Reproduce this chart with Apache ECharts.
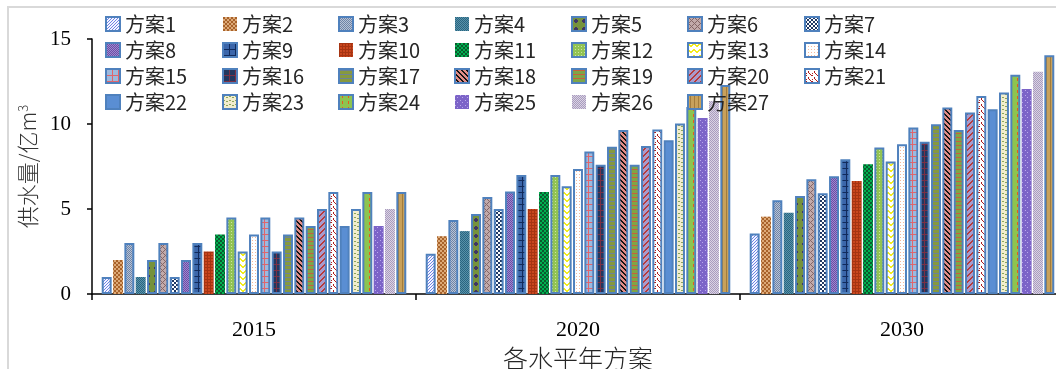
<!DOCTYPE html>
<html>
<head>
<meta charset="utf-8">
<script src="https://cdn.jsdelivr.net/npm/echarts@6/dist/echarts.min.js"></script>
<style>
html,body{margin:0;padding:0;background:#fff;}
#c{width:1056px;height:369px;}
</style>
</head>
<body>
<div id="c"></div>
<script>
// ---- data ----
const categories = ['2015', '2020', '2030'];
const seriesNames = ['方案1','方案2','方案3','方案4','方案5','方案6','方案7','方案8','方案9',
  '方案10','方案11','方案12','方案13','方案14','方案15','方案16','方案17','方案18',
  '方案19','方案20','方案21','方案22','方案23','方案24','方案25','方案26','方案27'];
const v2015 = [1, 2, 3, 1, 2, 3, 1, 2, 3, 2.5, 3.5, 4.5, 2.5, 3.5, 4.5, 2.5, 3.5, 4.5, 4, 5, 6, 4, 5, 6, 4, 5, 6];
const v2020 = [2.37, 3.4, 4.35, 3.7, 4.7, 5.7, 5.0, 6.03, 7.0, 5.0, 6.0, 7.0, 6.34, 7.36, 8.38, 7.6, 8.66, 9.64, 7.6, 8.7, 9.68, 9.05, 10.03, 11.0, 10.35, 11.35, 12.3];
const v2030 = [3.56, 4.55, 5.52, 4.78, 5.77, 6.75, 5.93, 6.93, 7.93, 6.65, 7.63, 8.62, 7.79, 8.81, 9.79, 8.95, 9.99, 10.97, 9.64, 10.68, 11.65, 10.87, 11.85, 12.89, 12.06, 13.08, 14.05];
const yTicks = { min: 0, max: 15, interval: 5 };

// ---- styles (fill patterns) ----
const fills = [
  {t:'diagUp', fg:'#6F82E6', bg:'#F4F6FF', sx:3, sy:3, w:1},
  {t:'checker', fg:'#A8622A', bg:'#DDAA78', sx:4, sy:4},
  {t:'checker', fg:'#6F84A6', bg:'#B8C3D6', sx:2, sy:2},
  {t:'checker', fg:'#2A6580', bg:'#5892AA', sx:2, sy:2},
  {t:'diamond', fg:'#3F3565', bg:'#76923C', sx:8, sy:8},
  {t:'trellis', fg:'#846666', bg:'#C2AAAA', sx:6, sy:6, w:1},
  {t:'checker', fg:'#1F3864', bg:'#FFFFFF', sx:4, sy:4},
  {t:'checker', fg:'#6A4EA6', bg:'#9F88CE', sx:2, sy:2},
  {t:'grid', fg:'#112B5C', bg:'#3B66AA', sx:6, sy:6, w:1},
  {t:'grid', fg:'#A63412', bg:'#C9461E', sx:3, sy:3, w:1},
  {t:'checker', fg:'#0B5A2E', bg:'#00B050', sx:4, sy:4},
  {t:'dots', fg:'#CDE6A0', bg:'#92C353', sx:3, sy:3},
  {t:'zigzag', fg:'#F2EC1C', bg:'#FFFFFF', sx:6, sy:6},
  {t:'dots', fg:'#F5B89A', bg:'#FFFFFF', sx:3, sy:3},
  {t:'grid', fg:'#E0656C', bg:'#9DB9DE', sx:6, sy:6, w:1},
  {t:'grid', fg:'#7A3046', bg:'#22375F', sx:6, sy:6, w:1},
  {t:'hlines', fg:'#6E8296', bg:'#86993F', sx:4, sy:4, w:1},
  {t:'diagDown', fg:'#141414', bg:'#E38C86', sx:5, sy:5, w:2},
  {t:'hlines', fg:'#C8603E', bg:'#7FA546', sx:4, sy:4, w:1},
  {t:'diagUp', fg:'#B83A3A', bg:'#A99BCC', sx:6, sy:6, w:2},
  {t:'confetti', fg:'#B01E1E', bg:'#FFFFFF', sx:6, sy:6},
  {t:'solid', fg:'#5A8ED3', bg:'#5A8ED3', sx:2, sy:2},
  {t:'wave', fg:'#8CA55A', bg:'#F2EDCD', sx:6, sy:4},
  {t:'vdash', fg:'#E85A1E', bg:'#8DC450', sx:6, sy:6},
  {t:'dots', fg:'#B9A8EC', bg:'#7C64C8', sx:5, sy:5},
  {t:'checker', fg:'#A99CBF', bg:'#DAD3E3', sx:2, sy:2},
  {t:'vlines', fg:'#A27C3C', bg:'#C8A15B', sx:4, sy:4, w:1}
];
const noBorder = [1, 3, 9, 10, 24, 25]; // 0-based indices of series without the blue outline

function makePattern(f) {
  const c = document.createElement('canvas');
  c.width = f.sx; c.height = f.sy;
  const g = c.getContext('2d');
  g.fillStyle = f.bg; g.fillRect(0, 0, f.sx, f.sy);
  g.fillStyle = f.fg;
  const w = f.w || 1;
  for (let x = 0; x < f.sx; x++) {
    for (let y = 0; y < f.sy; y++) {
      let on = false;
      const hx = f.sx / 2, hy = f.sy / 2;
      switch (f.t) {
        case 'diagUp': on = ((x + y) % f.sx) < w; break;
        case 'diagDown': on = ((x - y + f.sx * 10) % f.sx) < w; break;
        case 'trellis': on = ((x + y) % f.sx) < w || ((x - y + f.sx * 10) % f.sx) < w; break;
        case 'checker': on = ((Math.floor(x / hx) + Math.floor(y / hy)) % 2) === 0; break;
        case 'grid': on = (x % f.sx) < w || (y % f.sy) < w; break;
        case 'hlines': on = (y % f.sy) < w * 2 && (y % f.sy) >= w; break;
        case 'vlines': on = x === Math.floor(hx); break;
        case 'dots': on = (x === 0 && y === 0) || (f.sx > 3 && x === Math.floor(hx) && y === Math.floor(hy)); break;
        case 'diamond': on = Math.abs(x - hx + 0.5) + Math.abs(y - hy + 0.5) <= f.sx / 4; break;
        case 'confetti': on = (x === 0 && y === 0) || (x === 1 && y === 0) || (x === 3 && y === 2) || (x === 3 && y === 3) || (x === 1 && y === 4) || (x === 5 && y === 5) || (x === 4 && y === 4); break;
        case 'zigzag': on = y === (x < hx ? x : f.sx - 1 - x) || y === (x < hx ? x : f.sx - 1 - x) + 1; break;
        case 'wave': on = y === (x < hx ? 1 : 2) && (x % 3 !== 2); break;
        case 'vdash': on = x === Math.floor(hx) && y < hy; break;
        default: on = false;
      }
      if (on) g.fillRect(x, y, 1, 1);
    }
  }
  return { image: c, repeat: 'repeat' };
}

const series = seriesNames.map((name, i) => ({
  name: name,
  type: 'bar',
  data: [v2015[i], v2020[i], v2030[i]],
  barGap: '14%',
  barCategoryGap: '6%',
  itemStyle: {
    color: makePattern(fills[i]),
    borderColor: '#4F81BD',
    borderWidth: noBorder.indexOf(i) >= 0 ? 0 : 2
  },
  emphasis: { disabled: true }
}));

const legendLeft = [100, 217, 333, 449, 566, 682, 799];
const legends = legendLeft.map((lx, c) => {
  const d = [];
  for (let r = 0; r < 4; r++) { const k = c + r * 7; if (k < seriesNames.length) d.push(seriesNames[k]); }
  return {
    orient: 'vertical', left: lx, top: 9, itemGap: 6,
    itemWidth: 14, itemHeight: 14, icon: 'rect', selectedMode: false,
    textStyle: { fontFamily: 'Noto Sans CJK SC', fontSize: 20, lineHeight: 19, color: '#262626' },
    data: d
  };
});

const chart = echarts.init(document.getElementById('c'), null, { renderer: 'canvas' });
chart.setOption({
  animation: false,
  backgroundColor: '#fff',
  graphic: [{
    type: 'rect', silent: true, z: -10,
    shape: { x: 8, y: 7, width: 1200, height: 500 },
    style: { fill: 'none', stroke: '#D9D9D9', lineWidth: 2 }
  }],
  legend: legends,
  grid: { left: 92, right: -8, top: 39, bottom: 75, containLabel: false, outerBoundsMode: 'none' },
  xAxis: {
    type: 'category',
    data: categories,
    name: '各水平年方案',
    nameLocation: 'middle',
    nameGap: 43,
    nameTextStyle: { fontFamily: 'Noto Sans CJK SC', fontWeight: 300, fontSize: 25, color: '#262626' },
    axisLine: { show: true, lineStyle: { color: '#000', width: 1.5 } },
    axisTick: { show: true, length: 6, lineStyle: { color: '#000', width: 1.5 } },
    axisLabel: { fontFamily: 'Liberation Serif', fontSize: 22, color: '#000', margin: 25 },
    splitLine: { show: false }
  },
  yAxis: {
    type: 'value',
    min: yTicks.min, max: yTicks.max, interval: yTicks.interval,
    name: '供水量/亿m{sup|3}',
    nameLocation: 'middle',
    nameGap: 53,
    nameRotate: 90,
    nameTextStyle: {
      fontFamily: 'Noto Sans CJK SC', fontWeight: 300, fontSize: 22, color: '#333',
      rich: { sup: { fontFamily: 'Noto Sans CJK SC', fontSize: 13, color: '#333', verticalAlign: 'top', lineHeight: 22 } }
    },
    axisLine: { show: true, lineStyle: { color: '#000', width: 1.5 } },
    axisTick: { show: true, length: 5, lineStyle: { color: '#000', width: 1.5 } },
    axisLabel: { fontFamily: 'Liberation Serif', fontSize: 21, color: '#000', margin: 21 },
    splitLine: { show: false }
  },
  series: series
});
</script>
</body>
</html>
